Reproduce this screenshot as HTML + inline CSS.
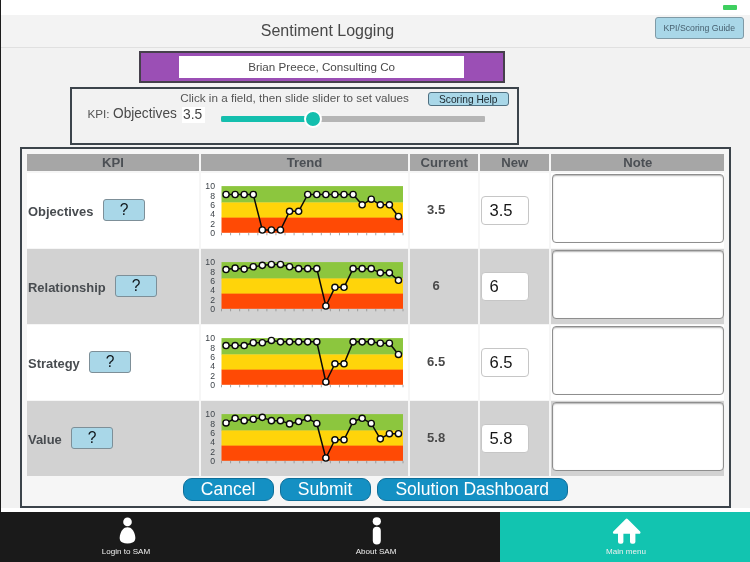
<!DOCTYPE html>
<html lang="en">
<head>
<meta charset="utf-8">
<title>Sentiment Logging</title>
<style>
*{box-sizing:border-box;margin:0;padding:0}
html,body{width:750px;height:562px;overflow:hidden;background:#f2f2f2}
body{position:relative;font-family:"Liberation Sans",Arial,Helvetica,sans-serif;color:#444;-webkit-font-smoothing:antialiased}
.abs{position:absolute}
#status{left:0;top:0;width:750px;height:15px;background:#fff}
#batt{left:722.6px;top:5.3px;width:14.6px;height:5px;background:#3ecf5f;border-radius:1px}
#lborder{left:0;top:0;width:1.1px;height:512px;background:#1c1c1c}
#hdr{left:0;top:15px;width:750px;height:32.8px;background:#f3f3f3;border-bottom:1px solid #e0e0e0}
#title{left:0;top:21px;width:655px;text-align:center;font-size:16px;line-height:20px;color:#484848}
#guide{left:655px;top:17.2px;width:88.5px;height:21.8px;background:#a9d7e8;border:1px solid #7f9aa6;border-radius:3px;font-size:8.7px;line-height:20.6px;text-align:center;color:#486170}
#purple{left:139px;top:51px;width:366px;height:32px;background:#9b4fb5;border:2px solid #46404c}
#pin{left:179.2px;top:55.6px;width:284.8px;height:22.5px;background:#fff;font-size:11.65px;line-height:22.5px;text-align:center;color:#4a4a4a}
#sbox{left:70px;top:86.8px;width:449.3px;height:58.1px;border:2px solid #3c444b;background:#f2f2f2}
#hint{left:180.3px;top:90px;font-size:11.7px;line-height:15px;color:#555;white-space:nowrap}
#shelp{left:427.7px;top:91.9px;width:81px;height:14.3px;background:#a9d7e8;border:1px solid #4f6f80;border-radius:3px;font-size:10.2px;line-height:14px;text-align:center;color:#1a262d}
#kpil{left:87.5px;top:106.3px;font-size:11.7px;line-height:16px;color:#555}
#kpin{left:113.3px;top:104.4px;font-size:15.2px;line-height:17px;color:#4a4a4a;white-space:nowrap;transform:scaleX(.9);transform-origin:0 0}
#kpiv{left:182px;top:106.6px;width:22.6px;height:16.2px;background:#fff;color:#444}
#kpiv span{position:absolute;left:1.4px;top:-1.8px;font-size:15.2px;line-height:17px;transform:scaleX(.91);transform-origin:0 0}
#trk{left:221px;top:115.5px;width:263.6px;height:6.6px;background:#b5b5b5;border-radius:1px}
#trkf{left:221px;top:115.5px;width:92px;height:6.6px;background:#14bfae;border-radius:2px}
#thumb{left:304.3px;top:109.9px;width:18px;height:18px;border-radius:50%;background:#14bfae;border:2.4px solid #fff}
#tbox{left:19.9px;top:146.8px;width:711.6px;height:361.5px;border:2.2px solid #3c444b;background:#f6f6f6}
#wband{left:1px;top:508.3px;width:749px;height:3.7px;background:#fff}
.th{position:absolute;top:154px;height:16.8px;background:#a6a6a6;color:#4b4f54;font-weight:bold;font-size:13.1px;line-height:17.6px;text-align:center}
.row{position:absolute;left:27px;width:697px;height:75px}
.cell{position:absolute;top:0;height:75px;z-index:0}
.cell::before{content:"";position:absolute;left:0;right:0;top:-0.3px;height:74.8px;background:#fff;z-index:-1}
.row.alt .cell::before{background:#d2d2d2}
.c1{left:0;width:172px}
.c2{left:174px;width:207px}
.c3{left:382.8px;width:68.7px}
.c4{left:453.3px;width:69px}
.c5{left:524.2px;width:173.2px}
.kname{position:absolute;left:1px;top:29.5px;font-weight:bold;font-size:12.95px;line-height:18px;color:#484c50}
.qbtn{position:absolute;top:26.3px;width:42.3px;height:21.3px;background:#a9d7e8;border:1px solid #7d8f98;border-radius:3px;text-align:center;font-size:15.6px;line-height:20.4px;color:#10161b}
.cur{position:absolute;left:0;width:52.6px;top:29.3px;text-align:center;font-weight:bold;font-size:13px;line-height:16px;color:#4a4a4a}
.newin{position:absolute;left:0.8px;top:23.4px;width:47.5px;height:29px;background:#fff;border:1px solid #c6c6c6;border-radius:4px;font-size:16.6px;line-height:27.4px;padding-left:7.4px;color:#161616}
.note{position:absolute;left:0.4px;top:0.5px;width:172.5px;height:69.3px;background:#fff;border:1.2px solid #8e8e8e;border-radius:4px;box-shadow:inset 0 1px 1.5px rgba(0,0,0,.3)}
.chart{position:absolute;left:0;top:0}
.ax{font-family:"Liberation Sans",Arial,sans-serif;font-size:8.7px;fill:#3f454b}
.btn{position:absolute;top:478.1px;height:22.8px;background:#1490c3;border:1px solid #0f6f99;border-radius:9px;color:#fff;font-size:17.5px;line-height:21px;text-align:center}
#foot{left:0;top:512px;width:500px;height:50px;background:#1a1a1a}
#footr{left:500.4px;top:512px;width:249.6px;height:50px;background:#12c4b0}
.flab{position:absolute;top:546px;width:120px;text-align:center;font-size:8.05px;line-height:12px;color:#f0f0f0}
.ico{position:absolute}
</style>
</head>
<body>
<div class="abs" id="status"></div>
<div class="abs" id="batt"></div>
<div class="abs" id="hdr"></div>
<div class="abs" id="lborder"></div>
<div class="abs" id="title">Sentiment Logging</div>
<div class="abs" id="guide">KPI/Scoring Guide</div>
<div class="abs" id="purple"></div>
<div class="abs" id="pin">Brian Preece, Consulting Co</div>
<div class="abs" id="sbox"></div>
<div class="abs" id="hint">Click in a field, then slide slider to set values</div>
<div class="abs" id="shelp">Scoring Help</div>
<div class="abs" id="kpil">KPI:</div>
<div class="abs" id="kpin">Objectives</div>
<div class="abs" id="kpiv"><span>3.5</span></div>
<div class="abs" id="trk"></div>
<div class="abs" id="trkf"></div>
<div class="abs" id="thumb"></div>
<div class="abs" id="wband"></div>
<div class="abs" id="tbox"></div>
<div class="th" style="left:26.8px;width:172.4px">KPI</div>
<div class="th" style="left:201px;width:207px">Trend</div>
<div class="th" style="left:409.8px;width:68.7px">Current</div>
<div class="th" style="left:480.3px;width:69px">New</div>
<div class="th" style="left:551.2px;width:173.2px">Note</div>
<div class="row" style="top:173px">
  <div class="cell c1"><span class="kname">Objectives</span><span class="qbtn" style="left:76px">?</span></div>
  <div class="cell c2"><svg class="chart" width="207" height="75" viewBox="0 0 207 75"><rect x="20.5" y="13.1" width="181.5" height="16.64" fill="#8cc63e"/><rect x="20.5" y="29.45" width="181.5" height="15.48" fill="#ffd40a"/><rect x="20.5" y="44.62" width="181.5" height="15.18" fill="#ff4a05"/><path d="M20.50 59.8v2.5M29.57 59.8v2.5M38.65 59.8v2.5M47.72 59.8v2.5M56.80 59.8v2.5M65.88 59.8v2.5M74.95 59.8v2.5M84.02 59.8v2.5M93.10 59.8v2.5M102.17 59.8v2.5M111.25 59.8v2.5M120.32 59.8v2.5M129.40 59.8v2.5M138.47 59.8v2.5M147.55 59.8v2.5M156.62 59.8v2.5M165.70 59.8v2.5M174.77 59.8v2.5M183.85 59.8v2.5M192.92 59.8v2.5M202.00 59.8v2.5" stroke="#8f8f8f" stroke-width="0.8" fill="none"/><text x="14" y="16.20" text-anchor="end" class="ax">10</text><text x="14" y="25.54" text-anchor="end" class="ax">8</text><text x="14" y="34.88" text-anchor="end" class="ax">6</text><text x="14" y="44.22" text-anchor="end" class="ax">4</text><text x="14" y="53.56" text-anchor="end" class="ax">2</text><text x="14" y="62.90" text-anchor="end" class="ax">0</text><polyline points="25.04,21.51 34.11,21.51 43.19,21.51 52.26,21.51 61.34,57.00 70.41,57.00 79.49,57.00 88.56,38.32 97.64,38.32 106.71,21.51 115.79,21.51 124.86,21.51 133.94,21.51 143.01,21.51 152.09,21.51 161.16,31.78 170.24,26.18 179.31,31.78 188.39,31.78 197.46,43.45" fill="none" stroke="#0a0a0a" stroke-width="1.5" stroke-linejoin="round"/><circle cx="25.04" cy="21.51" r="3.1" fill="#fff" stroke="#0a0a0a" stroke-width="1.4"/><circle cx="34.11" cy="21.51" r="3.1" fill="#fff" stroke="#0a0a0a" stroke-width="1.4"/><circle cx="43.19" cy="21.51" r="3.1" fill="#fff" stroke="#0a0a0a" stroke-width="1.4"/><circle cx="52.26" cy="21.51" r="3.1" fill="#fff" stroke="#0a0a0a" stroke-width="1.4"/><circle cx="61.34" cy="57.00" r="3.1" fill="#fff" stroke="#0a0a0a" stroke-width="1.4"/><circle cx="70.41" cy="57.00" r="3.1" fill="#fff" stroke="#0a0a0a" stroke-width="1.4"/><circle cx="79.49" cy="57.00" r="3.1" fill="#fff" stroke="#0a0a0a" stroke-width="1.4"/><circle cx="88.56" cy="38.32" r="3.1" fill="#fff" stroke="#0a0a0a" stroke-width="1.4"/><circle cx="97.64" cy="38.32" r="3.1" fill="#fff" stroke="#0a0a0a" stroke-width="1.4"/><circle cx="106.71" cy="21.51" r="3.1" fill="#fff" stroke="#0a0a0a" stroke-width="1.4"/><circle cx="115.79" cy="21.51" r="3.1" fill="#fff" stroke="#0a0a0a" stroke-width="1.4"/><circle cx="124.86" cy="21.51" r="3.1" fill="#fff" stroke="#0a0a0a" stroke-width="1.4"/><circle cx="133.94" cy="21.51" r="3.1" fill="#fff" stroke="#0a0a0a" stroke-width="1.4"/><circle cx="143.01" cy="21.51" r="3.1" fill="#fff" stroke="#0a0a0a" stroke-width="1.4"/><circle cx="152.09" cy="21.51" r="3.1" fill="#fff" stroke="#0a0a0a" stroke-width="1.4"/><circle cx="161.16" cy="31.78" r="3.1" fill="#fff" stroke="#0a0a0a" stroke-width="1.4"/><circle cx="170.24" cy="26.18" r="3.1" fill="#fff" stroke="#0a0a0a" stroke-width="1.4"/><circle cx="179.31" cy="31.78" r="3.1" fill="#fff" stroke="#0a0a0a" stroke-width="1.4"/><circle cx="188.39" cy="31.78" r="3.1" fill="#fff" stroke="#0a0a0a" stroke-width="1.4"/><circle cx="197.46" cy="43.45" r="3.1" fill="#fff" stroke="#0a0a0a" stroke-width="1.4"/></svg></div>
  <div class="cell c3"><span class="cur">3.5</span></div>
  <div class="cell c4"><span class="newin">3.5</span></div>
  <div class="cell c5"><span class="note"></span></div>
</div>
<div class="row alt" style="top:249px">
  <div class="cell c1"><span class="kname">Relationship</span><span class="qbtn" style="left:88px">?</span></div>
  <div class="cell c2"><svg class="chart" width="207" height="75" viewBox="0 0 207 75"><rect x="20.5" y="13.1" width="181.5" height="16.64" fill="#8cc63e"/><rect x="20.5" y="29.45" width="181.5" height="15.48" fill="#ffd40a"/><rect x="20.5" y="44.62" width="181.5" height="15.18" fill="#ff4a05"/><path d="M20.50 59.8v2.5M29.57 59.8v2.5M38.65 59.8v2.5M47.72 59.8v2.5M56.80 59.8v2.5M65.88 59.8v2.5M74.95 59.8v2.5M84.02 59.8v2.5M93.10 59.8v2.5M102.17 59.8v2.5M111.25 59.8v2.5M120.32 59.8v2.5M129.40 59.8v2.5M138.47 59.8v2.5M147.55 59.8v2.5M156.62 59.8v2.5M165.70 59.8v2.5M174.77 59.8v2.5M183.85 59.8v2.5M192.92 59.8v2.5M202.00 59.8v2.5" stroke="#8f8f8f" stroke-width="0.8" fill="none"/><text x="14" y="16.20" text-anchor="end" class="ax">10</text><text x="14" y="25.54" text-anchor="end" class="ax">8</text><text x="14" y="34.88" text-anchor="end" class="ax">6</text><text x="14" y="44.22" text-anchor="end" class="ax">4</text><text x="14" y="53.56" text-anchor="end" class="ax">2</text><text x="14" y="62.90" text-anchor="end" class="ax">0</text><polyline points="25.04,20.57 34.11,19.17 43.19,20.11 52.26,17.77 61.34,16.37 70.41,15.44 79.49,15.44 88.56,17.77 97.64,19.64 106.71,19.64 115.79,19.64 124.86,57.00 133.94,38.32 143.01,38.32 152.09,19.64 161.16,19.64 170.24,19.64 179.31,23.84 188.39,23.84 197.46,31.31" fill="none" stroke="#0a0a0a" stroke-width="1.5" stroke-linejoin="round"/><circle cx="25.04" cy="20.57" r="3.1" fill="#fff" stroke="#0a0a0a" stroke-width="1.4"/><circle cx="34.11" cy="19.17" r="3.1" fill="#fff" stroke="#0a0a0a" stroke-width="1.4"/><circle cx="43.19" cy="20.11" r="3.1" fill="#fff" stroke="#0a0a0a" stroke-width="1.4"/><circle cx="52.26" cy="17.77" r="3.1" fill="#fff" stroke="#0a0a0a" stroke-width="1.4"/><circle cx="61.34" cy="16.37" r="3.1" fill="#fff" stroke="#0a0a0a" stroke-width="1.4"/><circle cx="70.41" cy="15.44" r="3.1" fill="#fff" stroke="#0a0a0a" stroke-width="1.4"/><circle cx="79.49" cy="15.44" r="3.1" fill="#fff" stroke="#0a0a0a" stroke-width="1.4"/><circle cx="88.56" cy="17.77" r="3.1" fill="#fff" stroke="#0a0a0a" stroke-width="1.4"/><circle cx="97.64" cy="19.64" r="3.1" fill="#fff" stroke="#0a0a0a" stroke-width="1.4"/><circle cx="106.71" cy="19.64" r="3.1" fill="#fff" stroke="#0a0a0a" stroke-width="1.4"/><circle cx="115.79" cy="19.64" r="3.1" fill="#fff" stroke="#0a0a0a" stroke-width="1.4"/><circle cx="124.86" cy="57.00" r="3.1" fill="#fff" stroke="#0a0a0a" stroke-width="1.4"/><circle cx="133.94" cy="38.32" r="3.1" fill="#fff" stroke="#0a0a0a" stroke-width="1.4"/><circle cx="143.01" cy="38.32" r="3.1" fill="#fff" stroke="#0a0a0a" stroke-width="1.4"/><circle cx="152.09" cy="19.64" r="3.1" fill="#fff" stroke="#0a0a0a" stroke-width="1.4"/><circle cx="161.16" cy="19.64" r="3.1" fill="#fff" stroke="#0a0a0a" stroke-width="1.4"/><circle cx="170.24" cy="19.64" r="3.1" fill="#fff" stroke="#0a0a0a" stroke-width="1.4"/><circle cx="179.31" cy="23.84" r="3.1" fill="#fff" stroke="#0a0a0a" stroke-width="1.4"/><circle cx="188.39" cy="23.84" r="3.1" fill="#fff" stroke="#0a0a0a" stroke-width="1.4"/><circle cx="197.46" cy="31.31" r="3.1" fill="#fff" stroke="#0a0a0a" stroke-width="1.4"/></svg></div>
  <div class="cell c3"><span class="cur">6</span></div>
  <div class="cell c4"><span class="newin">6</span></div>
  <div class="cell c5"><span class="note"></span></div>
</div>
<div class="row" style="top:325px">
  <div class="cell c1"><span class="kname">Strategy</span><span class="qbtn" style="left:62px">?</span></div>
  <div class="cell c2"><svg class="chart" width="207" height="75" viewBox="0 0 207 75"><rect x="20.5" y="13.1" width="181.5" height="16.64" fill="#8cc63e"/><rect x="20.5" y="29.45" width="181.5" height="15.48" fill="#ffd40a"/><rect x="20.5" y="44.62" width="181.5" height="15.18" fill="#ff4a05"/><path d="M20.50 59.8v2.5M29.57 59.8v2.5M38.65 59.8v2.5M47.72 59.8v2.5M56.80 59.8v2.5M65.88 59.8v2.5M74.95 59.8v2.5M84.02 59.8v2.5M93.10 59.8v2.5M102.17 59.8v2.5M111.25 59.8v2.5M120.32 59.8v2.5M129.40 59.8v2.5M138.47 59.8v2.5M147.55 59.8v2.5M156.62 59.8v2.5M165.70 59.8v2.5M174.77 59.8v2.5M183.85 59.8v2.5M192.92 59.8v2.5M202.00 59.8v2.5" stroke="#8f8f8f" stroke-width="0.8" fill="none"/><text x="14" y="16.20" text-anchor="end" class="ax">10</text><text x="14" y="25.54" text-anchor="end" class="ax">8</text><text x="14" y="34.88" text-anchor="end" class="ax">6</text><text x="14" y="44.22" text-anchor="end" class="ax">4</text><text x="14" y="53.56" text-anchor="end" class="ax">2</text><text x="14" y="62.90" text-anchor="end" class="ax">0</text><polyline points="25.04,20.57 34.11,20.57 43.19,20.57 52.26,17.77 61.34,17.77 70.41,15.44 79.49,16.84 88.56,16.84 97.64,16.84 106.71,16.84 115.79,16.84 124.86,57.00 133.94,38.78 143.01,38.78 152.09,16.84 161.16,16.84 170.24,16.84 179.31,18.24 188.39,18.24 197.46,29.45" fill="none" stroke="#0a0a0a" stroke-width="1.5" stroke-linejoin="round"/><circle cx="25.04" cy="20.57" r="3.1" fill="#fff" stroke="#0a0a0a" stroke-width="1.4"/><circle cx="34.11" cy="20.57" r="3.1" fill="#fff" stroke="#0a0a0a" stroke-width="1.4"/><circle cx="43.19" cy="20.57" r="3.1" fill="#fff" stroke="#0a0a0a" stroke-width="1.4"/><circle cx="52.26" cy="17.77" r="3.1" fill="#fff" stroke="#0a0a0a" stroke-width="1.4"/><circle cx="61.34" cy="17.77" r="3.1" fill="#fff" stroke="#0a0a0a" stroke-width="1.4"/><circle cx="70.41" cy="15.44" r="3.1" fill="#fff" stroke="#0a0a0a" stroke-width="1.4"/><circle cx="79.49" cy="16.84" r="3.1" fill="#fff" stroke="#0a0a0a" stroke-width="1.4"/><circle cx="88.56" cy="16.84" r="3.1" fill="#fff" stroke="#0a0a0a" stroke-width="1.4"/><circle cx="97.64" cy="16.84" r="3.1" fill="#fff" stroke="#0a0a0a" stroke-width="1.4"/><circle cx="106.71" cy="16.84" r="3.1" fill="#fff" stroke="#0a0a0a" stroke-width="1.4"/><circle cx="115.79" cy="16.84" r="3.1" fill="#fff" stroke="#0a0a0a" stroke-width="1.4"/><circle cx="124.86" cy="57.00" r="3.1" fill="#fff" stroke="#0a0a0a" stroke-width="1.4"/><circle cx="133.94" cy="38.78" r="3.1" fill="#fff" stroke="#0a0a0a" stroke-width="1.4"/><circle cx="143.01" cy="38.78" r="3.1" fill="#fff" stroke="#0a0a0a" stroke-width="1.4"/><circle cx="152.09" cy="16.84" r="3.1" fill="#fff" stroke="#0a0a0a" stroke-width="1.4"/><circle cx="161.16" cy="16.84" r="3.1" fill="#fff" stroke="#0a0a0a" stroke-width="1.4"/><circle cx="170.24" cy="16.84" r="3.1" fill="#fff" stroke="#0a0a0a" stroke-width="1.4"/><circle cx="179.31" cy="18.24" r="3.1" fill="#fff" stroke="#0a0a0a" stroke-width="1.4"/><circle cx="188.39" cy="18.24" r="3.1" fill="#fff" stroke="#0a0a0a" stroke-width="1.4"/><circle cx="197.46" cy="29.45" r="3.1" fill="#fff" stroke="#0a0a0a" stroke-width="1.4"/></svg></div>
  <div class="cell c3"><span class="cur">6.5</span></div>
  <div class="cell c4"><span class="newin">6.5</span></div>
  <div class="cell c5"><span class="note"></span></div>
</div>
<div class="row alt" style="top:401px">
  <div class="cell c1"><span class="kname">Value</span><span class="qbtn" style="left:44px">?</span></div>
  <div class="cell c2"><svg class="chart" width="207" height="75" viewBox="0 0 207 75"><rect x="20.5" y="13.1" width="181.5" height="16.64" fill="#8cc63e"/><rect x="20.5" y="29.45" width="181.5" height="15.48" fill="#ffd40a"/><rect x="20.5" y="44.62" width="181.5" height="15.18" fill="#ff4a05"/><path d="M20.50 59.8v2.5M29.57 59.8v2.5M38.65 59.8v2.5M47.72 59.8v2.5M56.80 59.8v2.5M65.88 59.8v2.5M74.95 59.8v2.5M84.02 59.8v2.5M93.10 59.8v2.5M102.17 59.8v2.5M111.25 59.8v2.5M120.32 59.8v2.5M129.40 59.8v2.5M138.47 59.8v2.5M147.55 59.8v2.5M156.62 59.8v2.5M165.70 59.8v2.5M174.77 59.8v2.5M183.85 59.8v2.5M192.92 59.8v2.5M202.00 59.8v2.5" stroke="#8f8f8f" stroke-width="0.8" fill="none"/><text x="14" y="16.20" text-anchor="end" class="ax">10</text><text x="14" y="25.54" text-anchor="end" class="ax">8</text><text x="14" y="34.88" text-anchor="end" class="ax">6</text><text x="14" y="44.22" text-anchor="end" class="ax">4</text><text x="14" y="53.56" text-anchor="end" class="ax">2</text><text x="14" y="62.90" text-anchor="end" class="ax">0</text><polyline points="25.04,21.97 34.11,17.30 43.19,19.64 52.26,18.24 61.34,16.37 70.41,19.64 79.49,19.64 88.56,22.91 97.64,20.57 106.71,17.30 115.79,22.44 124.86,57.00 133.94,38.78 143.01,38.78 152.09,20.57 161.16,17.30 170.24,22.44 179.31,37.85 188.39,32.71 197.46,32.71" fill="none" stroke="#0a0a0a" stroke-width="1.5" stroke-linejoin="round"/><circle cx="25.04" cy="21.97" r="3.1" fill="#fff" stroke="#0a0a0a" stroke-width="1.4"/><circle cx="34.11" cy="17.30" r="3.1" fill="#fff" stroke="#0a0a0a" stroke-width="1.4"/><circle cx="43.19" cy="19.64" r="3.1" fill="#fff" stroke="#0a0a0a" stroke-width="1.4"/><circle cx="52.26" cy="18.24" r="3.1" fill="#fff" stroke="#0a0a0a" stroke-width="1.4"/><circle cx="61.34" cy="16.37" r="3.1" fill="#fff" stroke="#0a0a0a" stroke-width="1.4"/><circle cx="70.41" cy="19.64" r="3.1" fill="#fff" stroke="#0a0a0a" stroke-width="1.4"/><circle cx="79.49" cy="19.64" r="3.1" fill="#fff" stroke="#0a0a0a" stroke-width="1.4"/><circle cx="88.56" cy="22.91" r="3.1" fill="#fff" stroke="#0a0a0a" stroke-width="1.4"/><circle cx="97.64" cy="20.57" r="3.1" fill="#fff" stroke="#0a0a0a" stroke-width="1.4"/><circle cx="106.71" cy="17.30" r="3.1" fill="#fff" stroke="#0a0a0a" stroke-width="1.4"/><circle cx="115.79" cy="22.44" r="3.1" fill="#fff" stroke="#0a0a0a" stroke-width="1.4"/><circle cx="124.86" cy="57.00" r="3.1" fill="#fff" stroke="#0a0a0a" stroke-width="1.4"/><circle cx="133.94" cy="38.78" r="3.1" fill="#fff" stroke="#0a0a0a" stroke-width="1.4"/><circle cx="143.01" cy="38.78" r="3.1" fill="#fff" stroke="#0a0a0a" stroke-width="1.4"/><circle cx="152.09" cy="20.57" r="3.1" fill="#fff" stroke="#0a0a0a" stroke-width="1.4"/><circle cx="161.16" cy="17.30" r="3.1" fill="#fff" stroke="#0a0a0a" stroke-width="1.4"/><circle cx="170.24" cy="22.44" r="3.1" fill="#fff" stroke="#0a0a0a" stroke-width="1.4"/><circle cx="179.31" cy="37.85" r="3.1" fill="#fff" stroke="#0a0a0a" stroke-width="1.4"/><circle cx="188.39" cy="32.71" r="3.1" fill="#fff" stroke="#0a0a0a" stroke-width="1.4"/><circle cx="197.46" cy="32.71" r="3.1" fill="#fff" stroke="#0a0a0a" stroke-width="1.4"/></svg></div>
  <div class="cell c3"><span class="cur">5.8</span></div>
  <div class="cell c4"><span class="newin">5.8</span></div>
  <div class="cell c5"><span class="note"></span></div>
</div>
<div class="btn" style="left:182.6px;width:91px">Cancel</div>
<div class="btn" style="left:279.6px;width:91px">Submit</div>
<div class="btn" style="left:376.6px;width:191.3px">Solution Dashboard</div>
<div class="abs" id="foot"></div>
<div class="abs" id="footr"></div>
<svg class="ico" style="left:0;top:512px" width="750" height="50" viewBox="0 512 750 50">
<g fill="#fff">
<circle cx="127.500" cy="521.900" r="4.300"/>
<path d="M127.500 527.300c4 0 6.200 3.300 7.300 7.200c1.100 4 1.300 8.900-7.300 8.900s-8.400-4.900-7.300-8.900c1.100-3.900 3.300-7.200 7.300-7.200z"/>
<circle cx="376.800" cy="521.300" r="4.100"/>
<rect x="372.800" y="526.700" width="8" height="17.900" rx="4"/>
<path d="M626.700 520l12.500 12.500h-25z" stroke="#fff" stroke-width="2.600" stroke-linejoin="round"/>
<rect x="618" y="530" width="5.400" height="13.700" rx="2"/>
<rect x="630" y="530" width="5.400" height="13.700" rx="2"/>
</g>
</svg>
<div class="flab" style="left:66px">Login to SAM</div>
<div class="flab" style="left:316px">About SAM</div>
<div class="flab" style="left:566px">Main menu</div>
</body>
</html>
